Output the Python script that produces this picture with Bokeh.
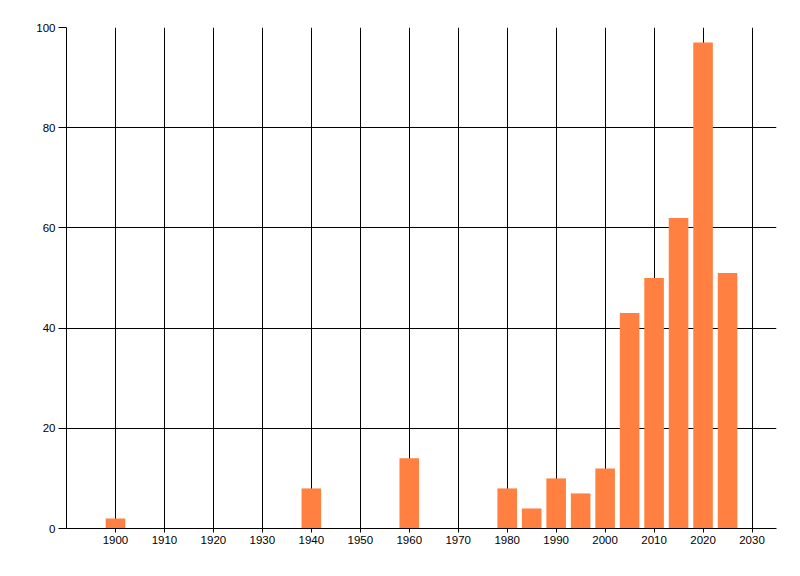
from bokeh.plotting import figure
from bokeh.models import ColumnDataSource, FixedTicker, Range1d
from bokeh.embed import file_html
from bokeh.resources import INLINE

years = [1900, 1940, 1960, 1980, 1985, 1990, 1995, 2000, 2005, 2010, 2015, 2020, 2025]
counts = [2, 8, 14, 8, 4, 10, 7, 12, 43, 50, 62, 97, 51]
x_ticks = [1900, 1910, 1920, 1930, 1940, 1950, 1960, 1970, 1980, 1990, 2000, 2010, 2020, 2030]
y_ticks = [0, 20, 40, 60, 80, 100]

src = ColumnDataSource(dict(x=years, top=counts))

p = figure(output_backend="svg", toolbar_location=None,
           frame_width=710, frame_height=501,
           x_range=Range1d(1890, 2035), y_range=Range1d(0, 100),
           min_border_left=66, min_border_top=27, min_border_right=16, min_border_bottom=40)
p.outline_line_color = None
p.background_fill_color = "white"
p.border_fill_color = "white"

p.vbar(x="x", top="top", bottom=0, width=4, source=src,
       fill_color="#FF8040", line_color=None)

for ax in (p.xaxis[0], p.yaxis[0]):
    ax.axis_line_color = "black"
    ax.major_tick_line_color = "black"
    ax.minor_tick_line_color = None
    ax.major_tick_in = 0
    ax.major_label_text_font = "Liberation Sans"
    ax.major_label_text_font_size = "11.5px"
    ax.major_label_text_color = "black"
    ax.major_label_standoff = 3

p.xaxis.ticker = FixedTicker(ticks=x_ticks)
p.yaxis.ticker = FixedTicker(ticks=y_ticks)
p.xaxis.major_tick_out = 4
p.yaxis.major_tick_out = 8

p.xgrid.ticker = FixedTicker(ticks=x_ticks)
p.ygrid.ticker = FixedTicker(ticks=y_ticks)
p.xgrid.grid_line_color = "black"
p.ygrid.grid_line_color = "black"
p.xgrid.grid_line_width = 1
p.ygrid.grid_line_width = 1
p.xgrid.level = "underlay"
p.ygrid.level = "underlay"

open("out.html", "w").write(file_html(p, INLINE))
